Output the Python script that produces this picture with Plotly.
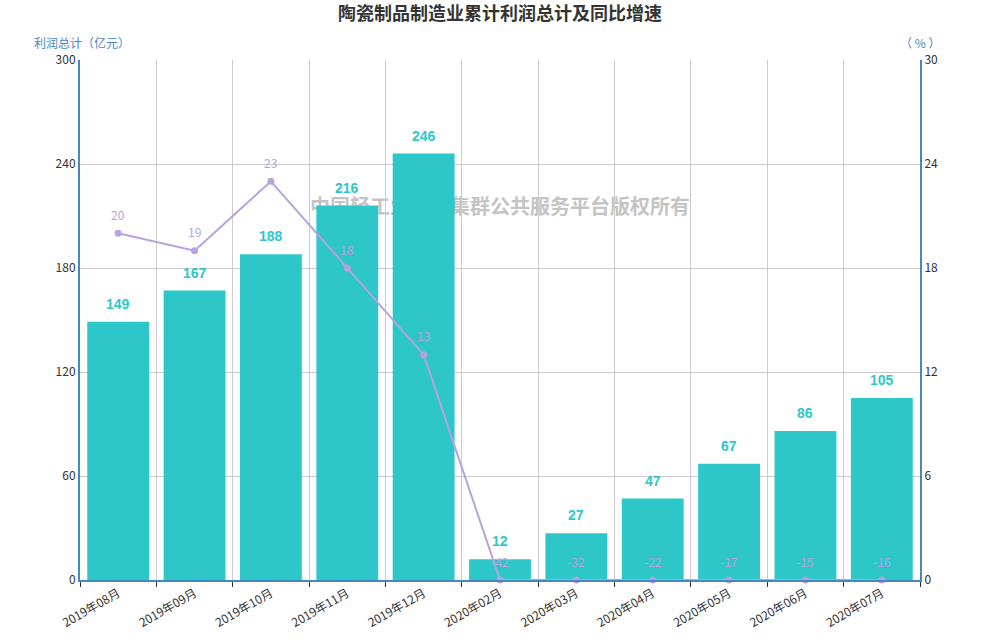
import plotly.graph_objects as go

months = ['2019年08月', '2019年09月', '2019年10月', '2019年11月', '2019年12月',
          '2020年02月', '2020年03月', '2020年04月', '2020年05月', '2020年06月', '2020年07月']
profit = [149, 167, 188, 216, 246, 12, 27, 47, 67, 86, 105]
growth = [20, 19, 23, 18, 13, -42, -32, -22, -17, -15, -16]

bar_color = '#2ec7c9'
line_color = '#b6a2de'
axis_blue = '#4587c3'
font_cn = 'Noto Sans CJK SC, Microsoft YaHei, sans-serif'

# right axis starts at 0, so negative growth sits on the floor
growth_plot = [max(v, 0) for v in growth]

fig = go.Figure()
fig.add_trace(go.Bar(x=months, y=profit, marker=dict(color=bar_color, line=dict(width=0)),
                     name='利润总计', hoverinfo='x+y'))
fig.add_trace(go.Scatter(x=months, y=growth_plot, yaxis='y2', mode='lines+markers',
                         line=dict(color=line_color, width=2),
                         marker=dict(color=line_color, size=7),
                         name='同比增速', customdata=growth,
                         hovertemplate='%{x}: %{customdata}<extra></extra>', cliponaxis=False))

anns = []
for m, v in zip(months, profit):
    anns.append(dict(x=m, y=v, xref='x', yref='y', text='<b>%d</b>' % v, showarrow=False,
                     yshift=18, font=dict(size=14, color=bar_color, family='Arial, sans-serif')))
for m, v, vp in zip(months, growth, growth_plot):
    anns.append(dict(x=m, y=vp, xref='x', yref='y2', text=str(v), showarrow=False,
                     yshift=19, font=dict(size=12, color=line_color, family=font_cn)))

# axis names
anns.append(dict(x=-0.057, y=1.0, xref='paper', yref='paper', xanchor='left', yanchor='middle',
                 yshift=18, text='利润总计（亿元）', showarrow=False,
                 font=dict(size=12, color=axis_blue, family=font_cn)))
anns.append(dict(x=1.0, y=1.0, xref='paper', yref='paper', xanchor='center', yanchor='middle',
                 yshift=18, text='（ % ）', showarrow=False,
                 font=dict(size=12, color=axis_blue, family=font_cn)))

fig.update_layout(
    width=1000, height=640,
    margin=dict(l=80, r=80, t=60, b=60, autoexpand=False),
    paper_bgcolor='white', plot_bgcolor='white',
    title=dict(text='<b>陶瓷制品制造业累计利润总计及同比增速</b>', x=0.5, xanchor='center',
               y=0.978, yanchor='middle', font=dict(size=18, color='#333333', family=font_cn)),
    font=dict(family=font_cn, size=12, color='#333333'),
    showlegend=False,
    bargap=0.19,
    xaxis=dict(type='category', tickson='boundaries', showgrid=True, gridcolor='#cccccc',
               range=[-0.5, len(months) - 0.5],
               gridwidth=1, ticks='outside', ticklen=5, tickcolor='#333333', automargin=False,
               showline=True, linecolor=axis_blue, linewidth=2, tickangle=-30,
               tickfont=dict(size=12, color='#333333'), zeroline=False),
    yaxis=dict(range=[0, 300], dtick=60, showgrid=True, gridcolor='#cccccc', gridwidth=1,
               showline=True, linecolor=axis_blue, linewidth=2, zeroline=False, automargin=False,
               ticks='', tickfont=dict(size=12, color='#333333')),
    yaxis2=dict(range=[0, 30], dtick=6, overlaying='y', side='right', showgrid=False,
                showline=True, linecolor=axis_blue, linewidth=2, zeroline=False, automargin=False,
                ticks='', tickfont=dict(size=12, color='#333333')),
    annotations=anns,
    shapes=[dict(type='rect', xref='x domain', yref='y domain', x0=0.2, x1=0.8, y0=0.68, y1=0.75,
                 line=dict(width=0), fillcolor='rgba(0,0,0,0)', layer='below',
                 label=dict(text='中国轻工业产业集群公共服务平台版权所有', textposition='middle center',
                            font=dict(size=20, color='#c4c4c4', family=font_cn, weight='bold')))],
)

# drop the page's default body margin so the figure sits at the window corner
fig.write_html("out.html", config={'displayModeBar': False},
               post_script="document.body.style.margin='0';")
